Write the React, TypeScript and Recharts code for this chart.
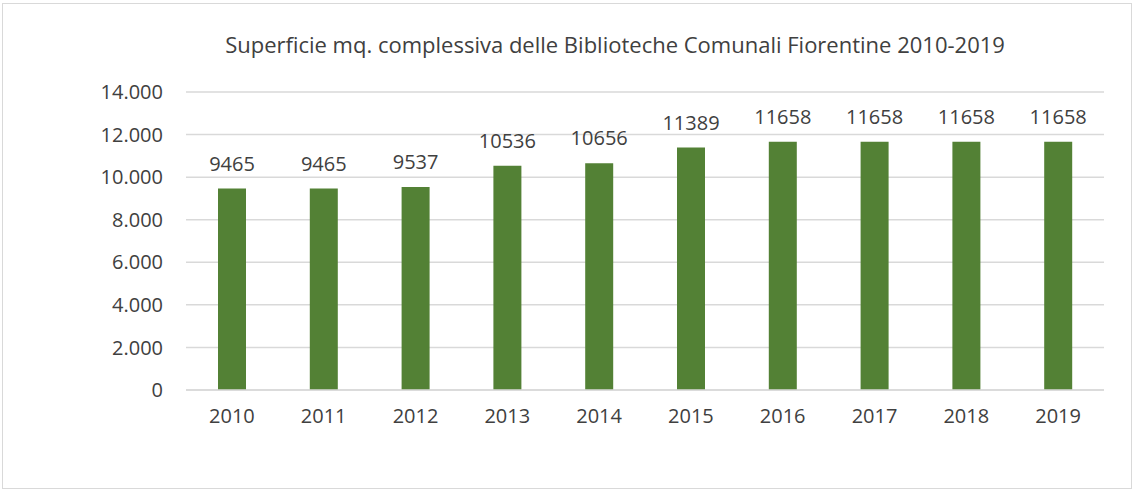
import React from 'react';
import { BarChart, Bar, XAxis, YAxis, CartesianGrid, LabelList } from 'recharts';

const years = ['2010', '2011', '2012', '2013', '2014', '2015', '2016', '2017', '2018', '2019'];
const surface = [9465, 9465, 9537, 10536, 10656, 11389, 11658, 11658, 11658, 11658];
const yTicks = [0, 2000, 4000, 6000, 8000, 10000, 12000, 14000];

const data = years.map((y, i) => ({ year: y, mq: surface[i] }));

const font = '"Open Sans", sans-serif';
const textColor = '#404040';

// 14000 -> "14.000" (separatore italiano)
const fmt = (v: number) => (v === 0 ? '0' : v.toLocaleString('it-IT'));

function App(): JSX.Element {
    return (
        <div style={{ position: 'absolute', left: 0, top: 0, width: 1137, height: 490 }}>
            <div
                style={{
                    position: 'absolute', left: 2, top: 3, width: 1128, height: 484,
                    border: '1px solid #d9d9d9', boxSizing: 'content-box',
                }}
            />
            <BarChart
                width={1137}
                height={490}
                data={data}
                margin={{ top: 92, right: 33, bottom: 70, left: 0 }}
                style={{ position: 'absolute', left: 0, top: 0 }}
            >
                <text
                    x={615}
                    y={44}
                    textAnchor="middle"
                    dominantBaseline="central"
                    style={{ fontSize: '22px', fontFamily: font, fill: textColor }}
                >Superficie mq. complessiva delle Biblioteche Comunali Fiorentine 2010-2019</text>
                <CartesianGrid vertical={false} stroke="#d9d9d9" strokeWidth={1.5} />
                <XAxis
                    dataKey="year"
                    height={30}
                    tickLine={false}
                    tickSize={0}
                    tickMargin={19}
                    axisLine={{ stroke: '#d9d9d9', strokeWidth: 1.5 }}
                    tick={{ fontSize: 20, fontFamily: font, fill: textColor }}
                />
                <YAxis
                    width={186}
                    domain={[0, 14000]}
                    ticks={yTicks}
                    tickFormatter={fmt}
                    axisLine={false}
                    tickLine={false}
                    tickSize={0}
                    tickMargin={23}
                    tick={{ fontSize: 20, fontFamily: font, fill: textColor }}
                />
                <Bar dataKey="mq" fill="#538135" barSize={28} isAnimationActive={false}>
                    <LabelList
                        dataKey="mq"
                        position="top"
                        offset={18}
                        style={{ fontSize: 20, fontFamily: font, fill: textColor }}
                    />
                </Bar>
            </BarChart>
        </div>
    );
}

export default App;
